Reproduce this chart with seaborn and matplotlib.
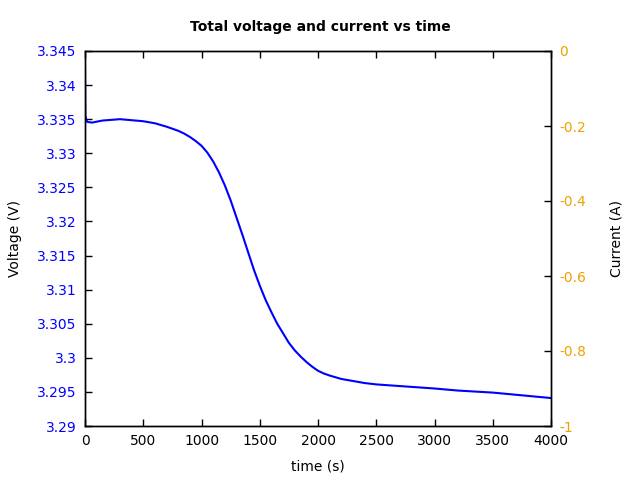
import matplotlib
matplotlib.use("Agg")
import matplotlib.pyplot as plt
import seaborn as sns
import pandas as pd

time_s = [0, 3, 10, 20, 60, 150, 300, 500, 600, 700, 800, 850, 900, 950, 1000, 1050, 1100,
          1150, 1200, 1250, 1300, 1350, 1400, 1450, 1500, 1550, 1600, 1650, 1700, 1750, 1800,
          1850, 1900, 1950, 2000, 2050, 2100, 2200, 2300, 2400, 2500, 3000, 3200, 3500, 4000]
voltage_v = [3.3425, 3.3355, 3.3350, 3.3346, 3.3345, 3.3348, 3.3350, 3.3347, 3.3344, 3.3339,
             3.3333, 3.3329, 3.3324, 3.3318, 3.3311, 3.3301, 3.3288, 3.3272, 3.3253, 3.3231,
             3.3206, 3.3181, 3.3155, 3.3129, 3.3106, 3.3085, 3.3067, 3.3050, 3.3036, 3.3022,
             3.3011, 3.3002, 3.2994, 3.2987, 3.2981, 3.2977, 3.2974, 3.2969, 3.2966, 3.2963,
             3.2961, 3.2955, 3.2952, 3.2949, 3.2941]
voltage_ticks = [3.29, 3.295, 3.3, 3.305, 3.31, 3.315, 3.32, 3.325, 3.33, 3.335, 3.34, 3.345]
current_ticks = [-1, -0.8, -0.6, -0.4, -0.2, 0]
time_ticks = [0, 500, 1000, 1500, 2000, 2500, 3000, 3500, 4000]

sns.set_style("white")
plt.rcParams['font.family'] = ['DejaVu Sans']
plt.rcParams['text.color'] = 'black'
plt.rcParams['axes.labelcolor'] = 'black'
plt.rcParams['xtick.color'] = 'black'
plt.rcParams['ytick.color'] = 'black'

df = pd.DataFrame({"time": time_s, "voltage": voltage_v})

fig = plt.figure(figsize=(6.4, 4.8), dpi=100)
ax = fig.add_axes([85/640, 54/480, (551-85)/640, (426-51)/480])
sns.lineplot(data=df, x="time", y="voltage", ax=ax, color="#0000ff", linewidth=1.5)
ax.set_xlim(0, 4000)
ax.set_ylim(3.29, 3.345)
ax.set_xticks(time_ticks)
ax.set_xticklabels([str(t) for t in time_ticks], fontsize=10, color="black")
ax.set_yticks(voltage_ticks)
ax.set_yticklabels([f"{v:g}" for v in voltage_ticks], fontsize=10, color="#0000ff")
ax.tick_params(axis="x", direction="in", top=True, bottom=True, length=5, width=1, pad=6, colors="black")
ax.tick_params(axis="y", direction="in", left=True, right=False, length=5, width=1, pad=6,
               color="black", labelcolor="#0000ff")
ax.set_xlabel("time (s)", fontsize=10, labelpad=8, color="black")
ax.set_ylabel("Voltage (V)", fontsize=10, labelpad=11, color="black")
for s in ax.spines.values():
    s.set_color("black")
    s.set_linewidth(1)

ax2 = ax.twinx()
ax2.set_ylim(-1, 0)
ax2.set_yticks(current_ticks)
ax2.set_yticklabels([f"{c:g}" for c in current_ticks], fontsize=10, color="#f0a000")
ax2.tick_params(axis="y", direction="in", right=True, length=5, width=1, pad=6,
                color="black", labelcolor="#f0a000")
ax2.set_ylabel("Current (A)", fontsize=10, labelpad=17, color="black")
for s in ax2.spines.values():
    s.set_color("black")
    s.set_linewidth(1)

fig.suptitle("Total voltage and current vs time", fontsize=10, fontweight="bold", y=0.958, color="black")
fig.savefig("out.png", dpi=100)
